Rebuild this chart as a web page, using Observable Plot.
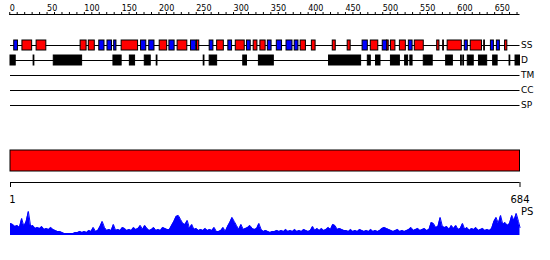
<!DOCTYPE html>
<html><head><meta charset="utf-8">
<script src="https://cdn.jsdelivr.net/npm/d3@7"></script>
<script src="https://cdn.jsdelivr.net/npm/@observablehq/plot@0.6"></script>
<style>body{margin:0;background:#fff} svg{display:block}</style>
</head><body><div id="chart"></div>
<script>
const seqLength = 684;
const axisTicks = d3.range(0, 681, 10);
const trackLabels = ["SS", "D", "TM", "CC", "SP"];
const helices = [[17,30],[36,49],[95,103],[106,114],[150,172],[201,211],[225,238],[251,254],[278,287],[303,315],[327,332],[336,343],[390,397],[405,410],[433,437],[453,457],[484,494],[506,508],[511,517],[523,531],[543,555],[573,576],[581,582],[587,606],[618,633],[636,637],[664,667]];
const strands = [[6,11],[120,127],[131,137],[140,143],[176,183],[187,194],[214,221],[243,250],[268,273],[293,298],[318,323],[346,351],[358,365],[371,379],[382,387],[473,480],[500,506],[535,540],[610,614],[645,649],[653,657]];
const disorder = [[1,8],[32,33],[59,97],[139,150],[161,168],[181,189],[197,198],[260,261],[268,278],[313,318],[334,354],[428,471],[480,484],[491,497],[511,523],[530,534],[537,540],[555,567],[585,594],[605,606],[608,609],[614,622],[629,640],[648,654],[670,671],[678,684]];
const domains = [[1,684]];
const rulerTicks = [1, 684];
const psStep = 3;
const psScore = [
12,11,9,10,8,17,9,14,24,9,10,7,8,7,9,6,7,6,8,6,
5,4,4,3,2,2,2,2,2,3,3,4,3,4,3,5,4,8,4,5,
9,14,8,5,6,5,11,5,6,5,8,7,5,6,5,8,6,7,10,6,
10,7,5,6,8,5,6,5,8,7,6,6,10,14,19,20,16,12,11,15,
7,11,6,7,5,6,5,7,5,6,5,8,4,4,5,8,4,9,13,18,
14,10,6,11,6,7,8,10,7,6,7,12,6,4,5,4,3,4,4,5,
4,5,4,6,4,5,4,6,4,5,4,6,5,4,5,9,5,7,5,7,
5,6,8,6,11,10,6,7,6,5,5,4,6,4,5,4,6,5,4,5,
4,6,4,5,4,5,7,8,7,6,5,4,5,6,4,5,4,5,6,8,
5,6,7,5,6,7,5,6,13,12,8,9,18,9,8,9,6,10,7,10,
6,7,12,6,8,5,7,6,8,5,6,7,5,6,5,7,14,18,12,20,
11,13,10,12,20,15,22,14,8
];

const rowY = {SS: 45, D: 60, TM: 75, CC: 90, SP: 105};
const domainY = [150, 171];
const rulerY = 182;
const xOpts = {domain: [1, seqLength], range: [10, 519.5], axis: null};
const baseStyle = {fontFamily: "DejaVu Sans", fontSize: "9px", background: "white", color: "black"};

const topPlot = Plot.plot({
  width: 550, height: 206, margin: 0, marginTop: 14,
  x: xOpts,
  y: {domain: [0, 206], range: [0, 206], axis: null},
  style: baseStyle,
  marks: [
    Plot.ruleY([14], {x1: () => 0, x2: () => seqLength, stroke: "black"}),
    Plot.axisX({anchor: "top", ticks: axisTicks, tickSize: 3, tickPadding: 1,
      tickFormat: d => (d % 50 === 0 ? String(d) : ""), textAnchor: "start", fontSize: 8, label: null}),
    Plot.ruleY(trackLabels, {y: d => rowY[d], x1: () => 1, x2: () => seqLength, stroke: "black"}),
    Plot.rect(helices, {x1: d => d[0], x2: d => d[1], y1: () => rowY.SS - 5, y2: () => rowY.SS + 5, fill: "#ff0000", stroke: "black"}),
    Plot.rect(strands, {x1: d => d[0], x2: d => d[1], y1: () => rowY.SS - 5, y2: () => rowY.SS + 5, fill: "#0000ff", stroke: "black"}),
    Plot.rect(disorder, {x1: d => d[0], x2: d => d[1], y1: () => rowY.D - 5, y2: () => rowY.D + 5, fill: "black", stroke: "black"}),
    Plot.text(trackLabels, {x: () => seqLength, y: d => rowY[d], text: d => d, textAnchor: "start", dx: 1, fontSize: 9}),
    Plot.rect(domains, {x1: d => d[0], x2: d => d[1], y1: () => domainY[0], y2: () => domainY[1], fill: "#ff0000", stroke: "black"}),
    Plot.ruleY([rulerY], {x1: () => rulerTicks[0], x2: () => rulerTicks[1], stroke: "black"}),
    Plot.ruleX(rulerTicks, {y1: () => rulerY, y2: () => rulerY + 5, stroke: "black"}),
    Plot.text([rulerTicks[0]], {x: d => d, y: () => 199, text: d => String(d), textAnchor: "middle", dx: 2, fontSize: 10}),
    Plot.text([rulerTicks[1]], {x: d => d, y: () => 199, text: d => String(d), textAnchor: "middle", fontSize: 10})
  ]
});

const psX = (d, i) => Math.min(1 + i * psStep, seqLength);
const bottomPlot = Plot.plot({
  width: 550, height: 54, margin: 0,
  x: xOpts,
  y: {domain: [0, 25], range: [29, 4], axis: null},
  style: baseStyle,
  marks: [
    Plot.areaY(psScore, {x: psX, y: d => d, fill: "#0000ff"}),
    Plot.lineY(psScore, {x: psX, y: d => d, stroke: "#0000ff", strokeWidth: 1}),
    Plot.text(["PS"], {x: () => seqLength, y: () => 24, text: d => d, textAnchor: "start", dx: 1, fontSize: 10})
  ]
});

const chart = document.getElementById("chart");
chart.appendChild(topPlot);
chart.appendChild(bottomPlot);
</script>
</body></html>
